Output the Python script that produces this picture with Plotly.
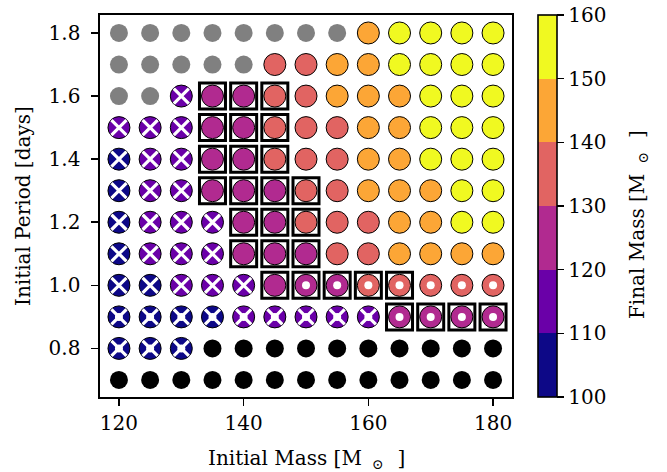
import plotly.graph_objects as go

# ---------------- data ----------------
masses = [120, 125, 130, 135, 140, 145, 150, 155, 160, 165, 170, 175, 180]
# rows listed from top (1.8 d) to bottom (0.7 d)
periods = [1.8, 1.7, 1.6, 1.5, 1.4, 1.3, 1.2, 1.1, 1.0, 0.9, 0.8, 0.7]

N = None
final_mass = [
    [N, N, N, N, N, N, N, N, 145, 155, 155, 155, 155],
    [N, N, N, N, N, 135, 135, 145, 145, 155, 155, 155, 155],
    [N, N, 115, 125, 125, 135, 135, 145, 145, 145, 155, 155, 155],
    [115, 115, 115, 125, 125, 135, 135, 135, 145, 145, 155, 155, 155],
    [105, 115, 115, 125, 125, 135, 135, 135, 145, 145, 155, 155, 155],
    [105, 115, 115, 125, 125, 125, 135, 135, 145, 145, 145, 155, 155],
    [105, 115, 115, 115, 125, 125, 135, 135, 135, 145, 145, 155, 155],
    [105, 115, 115, 115, 125, 125, 125, 135, 135, 145, 145, 145, 145],
    [105, 105, 115, 115, 115, 125, 125, 125, 135, 135, 135, 135, 135],
    [105, 105, 105, 105, 115, 115, 115, 115, 115, 125, 125, 125, 125],
    [105, 105, 105, N, N, N, N, N, N, N, N, N, N],
    [N, N, N, N, N, N, N, N, N, N, N, N, N],
]

# g = grey (no run), k = black, x = cross, o = dot, * = cross + dot, . = plain
marks = [
    "g g g g g g g g . . . . .",
    "g g g g g . . . . . . . .",
    "g g x . . . . . . . . . .",
    "x x x . . . . . . . . . .",
    "x x x . . . . . . . . . .",
    "x x x . . . . . . . . . .",
    "x x x x . . . . . . . . .",
    "x x x x . . . . . . . . .",
    "x x x x x . o o o o o o o",
    "* * * * * * * * * o o o o",
    "* * * k k k k k k k k k k",
    "k k k k k k k k k k k k k",
]

boxed = [
    "0000000000000",
    "0000000000000",
    "0001110000000",
    "0001110000000",
    "0001110000000",
    "0001111000000",
    "0000111000000",
    "0000111000000",
    "0000011111000",
    "0000000001111",
    "0000000000000",
    "0000000000000",
]

cbar_ticks = [100, 110, 120, 130, 140, 150, 160]
bin_colors = ['#0d0887', '#6a00a8', '#b12a90', '#e16462', '#fca636', '#f0f921']

SUN = '\u2002<sub>⊙</sub>\u2002\u2009'
x_title = 'Initial Mass [M' + SUN + ']'
y_title = 'Initial Period [days]'
c_title = 'Final Mass [M' + SUN + ']'

# ---------------- build point sets ----------------
gx, gy, kx, ky = [], [], [], []
cx, cy, cv = [], [], []
xx, xy, ox, oy, bx, by = [], [], [], [], [], []
for r, p in enumerate(periods):
    row_marks = marks[r].split()
    for c, m in enumerate(masses):
        code = row_marks[c]
        if code == 'g':
            gx.append(m); gy.append(p)
        elif code == 'k':
            kx.append(m); ky.append(p)
        else:
            cx.append(m); cy.append(p); cv.append(final_mass[r][c])
            if code in ('x', '*'):
                xx.append(m); xy.append(p)
            if code in ('o', '*'):
                ox.append(m); oy.append(p)
        if boxed[r][c] == '1':
            bx.append(m); by.append(p)

cs = []
for i, col in enumerate(bin_colors):
    cs.append([i / 6, col])
    cs.append([(i + 1) / 6, col])

FONT = "DejaVu Serif"
TF = dict(family=FONT, size=20, color='black')
fig = go.Figure()
fig.add_trace(go.Scatter(x=gx, y=gy, mode='markers', hoverinfo='skip',
                         marker=dict(color='#808080', size=18, line=dict(width=0))))
fig.add_trace(go.Scatter(x=kx, y=ky, mode='markers', hoverinfo='skip',
                         marker=dict(color='black', size=18, line=dict(width=0))))
fig.add_trace(go.Scatter(
    x=cx, y=cy, mode='markers',
    marker=dict(color=cv, colorscale=cs, cmin=100, cmax=160, size=22,
                line=dict(color='black', width=1),
                colorbar=dict(
                    x=1.063, xanchor='left', xpad=0, y=0.5, yanchor='middle',
                    len=1.0, ypad=0, thickness=19,
                    outlinecolor='black', outlinewidth=1.6,
                    tickvals=cbar_ticks, ticks='outside', ticklen=7, tickwidth=1.6,
                    tickcolor='black', tickfont=TF, tickprefix='\u00a0',
                    ticklabeloverflow='allow',
                ))))
fig.add_trace(go.Scatter(x=xx, y=xy, mode='markers', hoverinfo='skip',
                         marker=dict(symbol='x-thin-open', size=15, color='white',
                                     line=dict(color='white', width=3.2))))
fig.add_trace(go.Scatter(x=ox, y=oy, mode='markers', hoverinfo='skip',
                         marker=dict(symbol='circle', size=8, color='white',
                                     line=dict(width=0))))
fig.add_trace(go.Scatter(x=bx, y=by, mode='markers', hoverinfo='skip',
                         marker=dict(symbol='square-open', size=26, color='black',
                                     line=dict(color='black', width=3))))

axis_common = dict(showline=True, mirror=True, linecolor='black', linewidth=1.6,
                   ticks='outside', ticklen=7, tickwidth=1.6, tickcolor='black',
                   showgrid=False, zeroline=False, tickfont=TF)

fig.update_layout(
    width=667, height=472,
    margin=dict(l=100, r=155, t=15, b=75),
    paper_bgcolor='white', plot_bgcolor='white',
    showlegend=False,
    font=TF,
    xaxis=dict(range=[116.96, 183.04], tickvals=[120, 140, 160, 180], **axis_common),
    yaxis=dict(range=[0.646, 1.857], tickvals=[0.8, 1.0, 1.2, 1.4, 1.6, 1.8],
               tickformat='.1f', ticklabelstandoff=7, **axis_common),
    annotations=[
        dict(text=x_title, xref='paper', yref='paper', x=0.5, y=0,
             xanchor='center', yanchor='middle', yshift=-62, showarrow=False, font=TF),
        dict(text=y_title, xref='paper', yref='paper', x=0, y=0.5, textangle=-90,
             xanchor='center', yanchor='middle', xshift=-77, showarrow=False, font=TF),
        dict(text=c_title, xref='paper', yref='paper', x=1, y=0.45, textangle=-90,
             xanchor='center', yanchor='middle', xshift=126, showarrow=False, font=TF),
    ],
)

fig.write_html("out.html",
               config={'displayModeBar': False, 'staticPlot': True},
               post_script="document.body.style.margin='0';document.body.style.overflow='hidden';")
